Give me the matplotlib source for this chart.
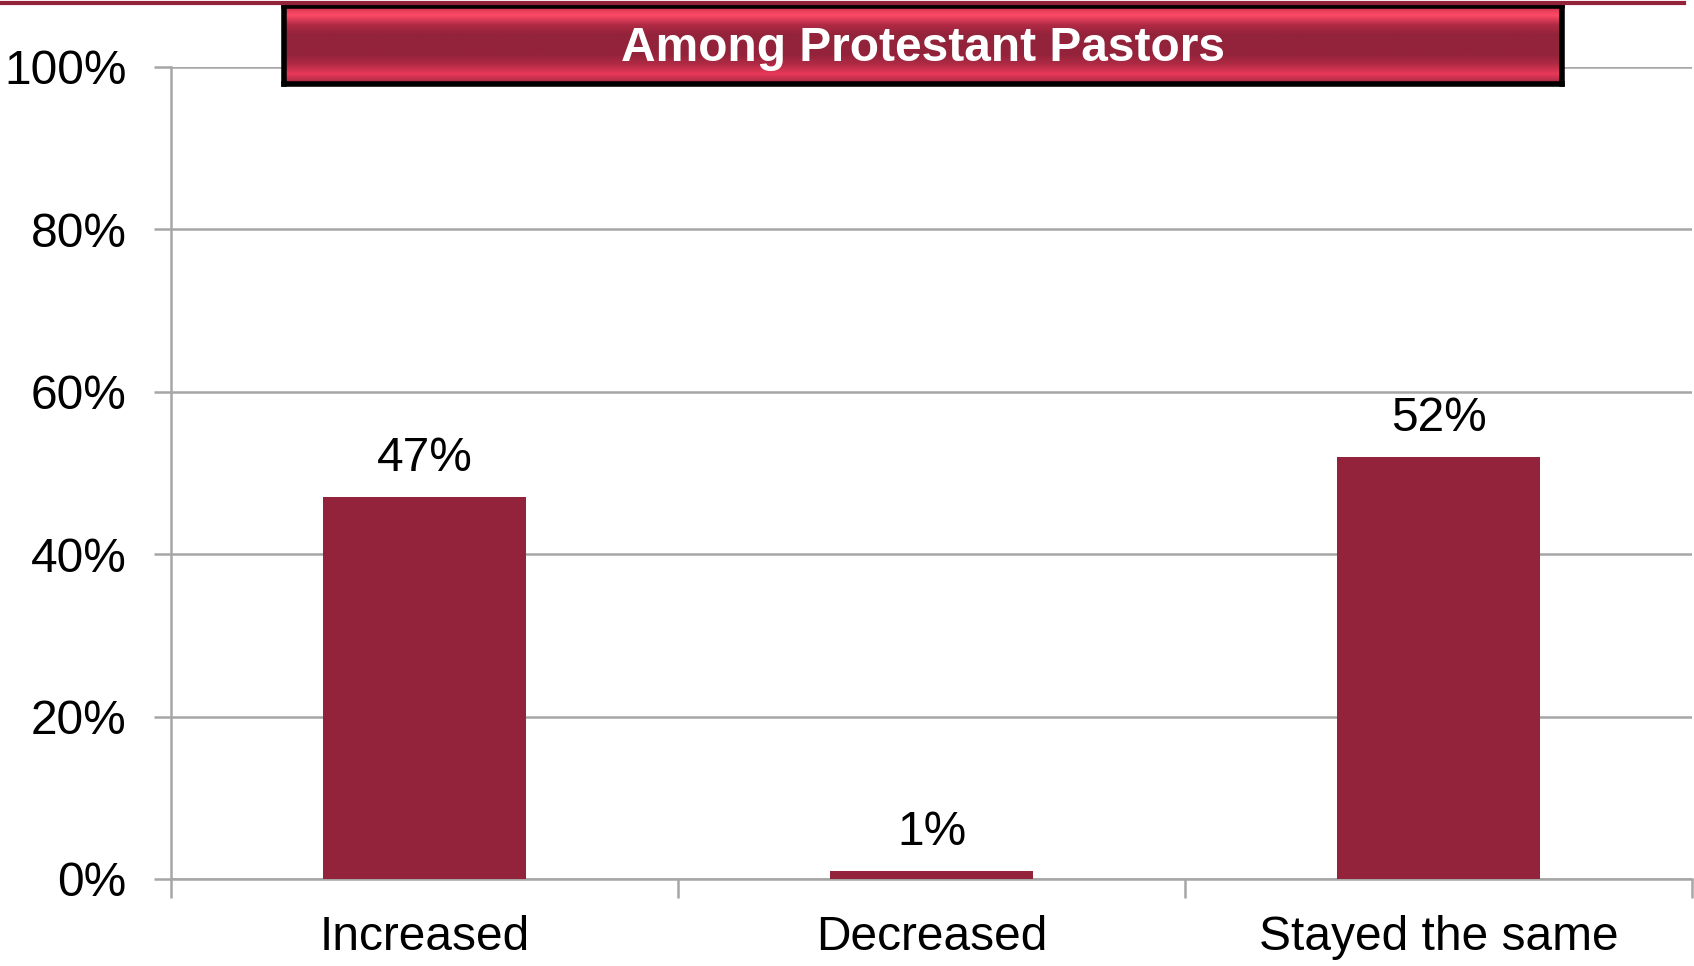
import numpy as np
import matplotlib
matplotlib.use("Agg")
import matplotlib.pyplot as plt
from matplotlib.colors import LinearSegmentedColormap

plt.rcParams['font.family'] = ['Liberation Sans', 'DejaVu Sans']

# data
categories = ['Increased', 'Decreased', 'Stayed the same']
values = [47, 1, 52]
value_labels = ['47%', '1%', '52%']
title_text = 'Among Protestant Pastors'

bar_color = '#93233A'
grid_color = '#A6A6A6'
fs = 34.5

W, H = 1694, 966
fig = plt.figure(figsize=(W / 100, H / 100), dpi=100)

ax = fig.add_axes([171 / W, 1 - 879 / H, (1692 - 171) / W, (879 - 67) / H])
x = np.arange(len(categories))
ax.bar(x, values, width=0.4, color=bar_color, zorder=3)
for xi, v, lab in zip(x, values, value_labels):
    ax.text(xi, v + 2.0, lab, ha='center', va='bottom', fontsize=fs, color='black')

ax.set_xlim(-0.5, 2.5)
ax.set_ylim(0, 100)
ax.set_yticks(np.arange(0, 101, 20))
ax.set_yticklabels([f'{v}%' for v in range(0, 101, 20)], fontsize=fs)
ax.yaxis.grid(True, color=grid_color, linewidth=1.8, zorder=0)
ax.set_axisbelow(True)

# category labels at centers, tick marks on boundaries
ax.set_xticks(x)
ax.set_xticklabels(categories, fontsize=fs)
ax.tick_params(axis='x', which='major', length=0, pad=26)
ax.set_xticks([-0.5, 0.5, 1.5, 2.5], minor=True)
ax.tick_params(axis='x', which='minor', length=14, width=1.8, color=grid_color, direction='out')
ax.tick_params(axis='y', length=12, width=1.8, color=grid_color, pad=20)

for side in ['top', 'right']:
    ax.spines[side].set_visible(False)
ax.spines['left'].set_color(grid_color)
ax.spines['left'].set_linewidth(1.8)
ax.spines['bottom'].set_color(grid_color)
ax.spines['bottom'].set_linewidth(1.8)

# top red rule
fig.add_artist(plt.Line2D([0, 1684 / W], [1 - 2.5 / H, 1 - 2.5 / H], color=bar_color, linewidth=3))

# title banner with gradient
bx0, bx1, by0, by1 = 284, 1562, 6, 84
tax = fig.add_axes([bx0 / W, 1 - by1 / H, (bx1 - bx0) / W, (by1 - by0) / H])
cmap = LinearSegmentedColormap.from_list('band', ['#C8304C', '#FF4A66', '#B02A44', '#93233A',
                                                  '#93233A', '#93233A', '#B02A44', '#E83A58', '#9E2640'])
grad = np.linspace(0, 1, 200).reshape(-1, 1)
tax.imshow(grad, aspect='auto', cmap=cmap, extent=[0, 1, 0, 1], origin='upper')
tax.set_xlim(0, 1)
tax.set_ylim(0, 1)
tax.set_xticks([])
tax.set_yticks([])
for s in tax.spines.values():
    s.set_color('black')
    s.set_linewidth(4)
tax.text(0.5, 0.46, title_text, ha='center', va='center', fontsize=fs,
         fontweight='bold', color='white')

fig.savefig('out.png', dpi=100)
